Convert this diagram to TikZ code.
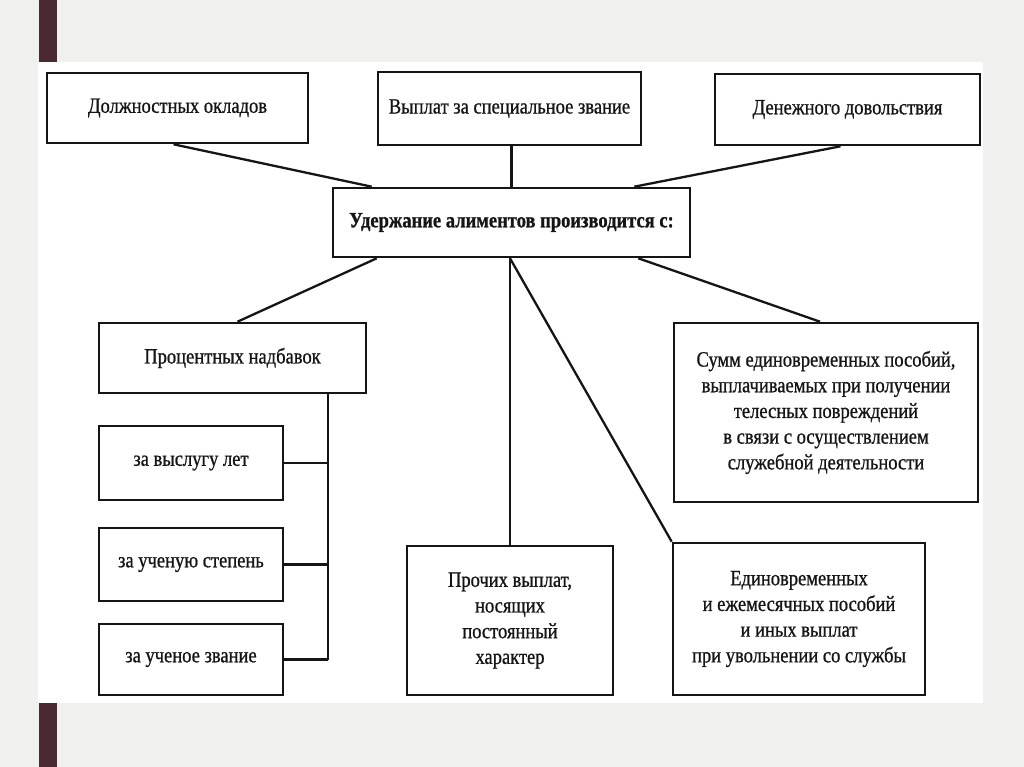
\documentclass[tikz,border=0pt]{standalone}
\usepackage{fontspec}
\setmainfont{Liberation Serif}[FakeStretch=0.85,FakeBold=0.8]
\usetikzlibrary{calc}
\definecolor{bggray}{HTML}{F0F0EE}
\definecolor{maroon}{HTML}{4A2A30}
\definecolor{ink}{HTML}{151515}
\begin{document}
\begin{tikzpicture}[x=1pt,y=-1pt,
  box/.style={draw=ink,line width=2.6pt,fill=white,rectangle,align=center,
    text=ink,inner sep=2pt,font=\fontsize{21.8}{25.7}\selectfont},
  conn/.style={draw=ink,line width=2.3pt}]
\useasboundingbox (0,0) rectangle (1024,767);
\fill[bggray] (0,0) rectangle (1024,767);
\fill[white] (38,62) rectangle (983,703);
\fill[maroon] (39,0) rectangle (57,62);
\fill[maroon] (39,703) rectangle (57,767);

\node[box,minimum width=261,minimum height=70] (b1) at (177.5,108) {Должностных окладов};
\node[box,minimum width=263,minimum height=73] (b2) at (509.5,108.5) {Выплат за специальное звание};
\node[box,minimum width=265,minimum height=71] (b3) at (847.5,109.5) {Денежного довольствия};
\node[box,minimum width=357,minimum height=69,font=\fontsize{21.8}{25.7}\selectfont\bfseries] (c) at (511.5,222.5) {Удержание алиментов производится с:};
\node[box,minimum width=267,minimum height=70] (b5) at (232.5,358) {Процентных надбавок};
\node[box,minimum width=184,minimum height=74] (b6) at (191,463) {за выслугу лет};
\node[box,minimum width=184,minimum height=73] (b7) at (191,564.5) {за ученую степень};
\node[box,minimum width=184,minimum height=71] (b8) at (191,659.5) {за ученое звание};
\node[box,minimum width=206,minimum height=149] (b9) at (510,620.5) {Прочих выплат,\\носящих\\постоянный\\характер};
\node[box,minimum width=304,minimum height=179] (b10) at (826,412.5) {Сумм единовременных пособий,\\выплачиваемых при получении\\телесных повреждений\\в связи с осуществлением\\служебной деятельности};
\node[box,minimum width=252,minimum height=152] (b11) at (799,619) {Единовременных\\и ежемесячных пособий\\и иных выплат\\при увольнении со службы};

\coordinate (spine) at (328,393);

\draw[conn] ([xshift=-4]b1.south) -- ([xshift=40]c.north west);
\draw[conn] (b2.south -| c.north) -- (c.north);
\draw[conn] ([xshift=-7]b3.south) -- ([xshift=-57]c.north east);
\draw[conn] ([xshift=45]c.south west) -- ([xshift=5]b5.north);
\draw[conn] ([xshift=-53]c.south east) -- ([xshift=-6]b10.north);
\draw[conn] (c.south -| b9.north) -- (b9.north);
\draw[conn] (c.south -| b9.north) -- (b11.north west);
\draw[conn] (spine) -- (spine |- b8.east);
\draw[conn] (b6.east) -- (b6.east -| spine);
\draw[conn] (b7.east) -- (b7.east -| spine);
\draw[conn] (b8.east) -- (b8.east -| spine);
\end{tikzpicture}
\end{document}
